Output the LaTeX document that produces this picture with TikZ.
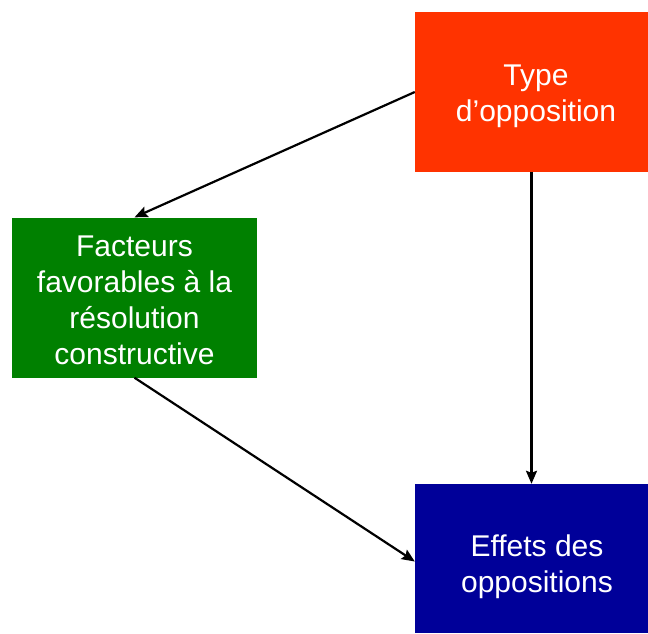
\documentclass[tikz,border=0pt]{standalone}
\usepackage{fontspec}
\setmainfont{Liberation Sans}
\usetikzlibrary{arrows.meta}
\definecolor{cred}{HTML}{FF3300}
\definecolor{cgreen}{HTML}{008000}
\definecolor{cblue}{HTML}{000099}
\begin{document}
\begin{tikzpicture}[x=1pt,y=-1pt,
  boxstyle/.style={draw=none,inner sep=0pt,minimum width=#1},
  txt/.style={text=white,align=center,inner sep=0pt,font=\fontsize{30}{36}\selectfont},
  arr/.style={line width=2.2pt,-{Stealth[length=13pt,width=11pt,inset=2pt]}}]
\useasboundingbox (0,0) rectangle (648,633);
\node[boxstyle=233pt,minimum height=160pt,fill=cred] (red) at (531.5,92) {};
\node[boxstyle=245pt,minimum height=160pt,fill=cgreen] (grn) at (134.5,297.5) {};
\node[boxstyle=233pt,minimum height=149pt,fill=cblue] (blue) at (531.5,558.5) {};
\node[txt] (redt) at (536,96) {Type\\d’opposition};
\node[txt] (grnt) at (134.5,300) {Facteurs\\favorables à la\\résolution\\constructive};
\node[txt] (bluet) at (537,567) {Effets des\\oppositions};
\draw[arr] (red.west) -- (grn.north);
\draw[arr] (red.south) -- (blue.north);
\draw[arr] (grn.south) -- ([yshift=-3pt]blue.west);
\end{tikzpicture}
\end{document}
